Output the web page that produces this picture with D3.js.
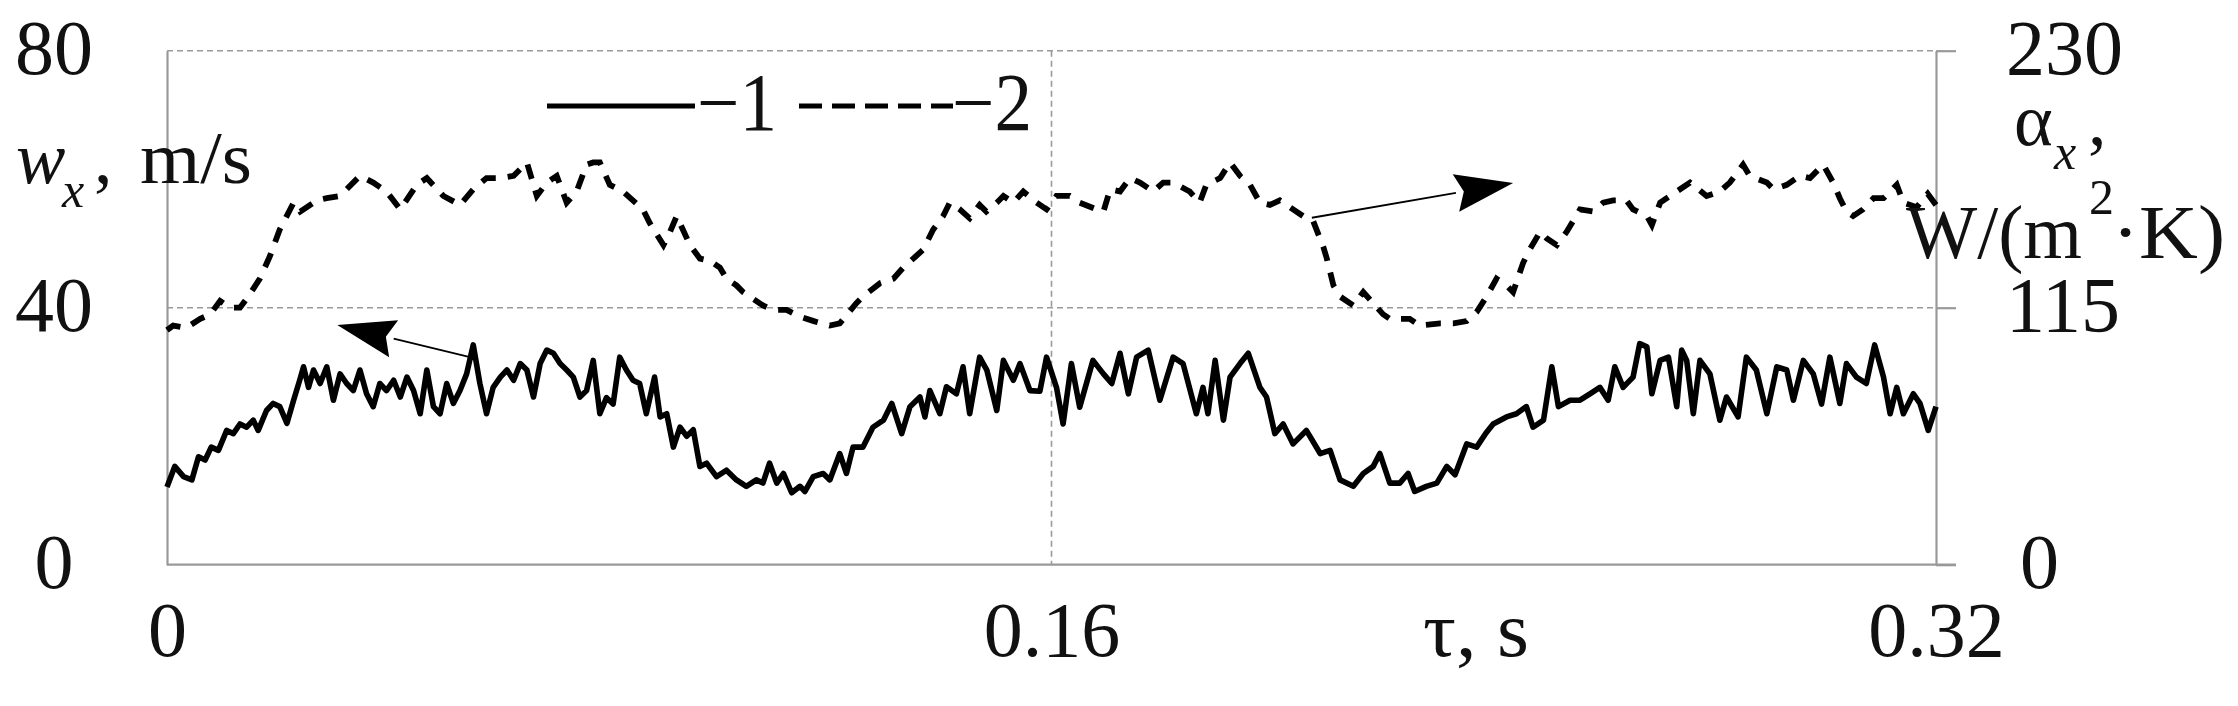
<!DOCTYPE html>
<html>
<head>
<meta charset="utf-8">
<script src="https://cdn.jsdelivr.net/npm/d3@7/dist/d3.min.js"></script>
<style>
html, body { margin: 0; padding: 0; background: #fff; }
svg text { font-family: "Liberation Serif", "Times New Roman", serif; fill: #111; }
</style>
</head>
<body>
<svg id="chart" width="2238" height="706"></svg>
<script>
// curve 1 - w_x, m/s (left axis), time in ms
var tau1 = [0, 1.4, 3, 4.5, 5.7, 6.9, 8, 9.3, 10.8, 12, 13.2, 14.4, 15.6, 16.5, 18, 19.2, 20.4, 21.7, 22.9, 24,
  24.7, 25.6, 26.5, 27.7, 28.9, 30.1, 31.3, 32.5, 33.7, 34.9, 36.1, 37.3, 38.5, 39.7, 41, 42.2, 43.4, 44.6, 45.8, 47,
  48.2, 49.4, 50.6, 51.8, 53, 54.2, 55.4, 56.6, 57.8, 59, 60.3, 61.5, 62.7, 63.9, 65.1, 66.3, 67.5, 68.7, 69.9, 71.1,
  72.3, 73.5, 74.7, 75.9, 77.1, 78.3, 79.5, 80.7, 81.9, 83.1, 84.3, 85.5, 86.7, 88.2, 89.2, 90.4, 91.6, 92.8, 94, 95.2,
  96.4, 97.6, 99.4, 101.2, 103, 104.8, 106.6, 107.8, 109, 110.3, 111.5, 113, 114.5, 115.4, 116.9, 118.7, 119.9, 121.7, 122.9, 124.1,
  125.9, 127.7, 129.6, 131.1, 132.9, 134.4, 136.2, 137.1, 138, 139.8, 141, 142.8, 144, 145.2, 147, 148.3, 150.1, 151.3, 153.1, 154.3,
  156.1, 157.9, 159.1, 160.9, 162.1, 163.6, 165.1, 167.5, 169.4, 170.9, 172.4, 173.9, 175.4, 177.5, 179.6, 182, 183.8, 186.2, 187.4, 188.3,
  189.6, 191.1, 192.3, 194.1, 195.6, 197.7, 198.9, 200.4, 201.9, 203.7, 206.1, 208.6, 210.4, 212.2, 214.6, 216.4, 218.2, 219.4, 221.2, 223,
  224.5, 225.7, 227.8, 229.7, 231.5, 233, 235.1, 236.9, 238.6, 239.9, 242.3, 244.1, 245.9, 247.1, 249, 250.5, 251.7, 253.8, 255.6, 257.4,
  259.2, 260.7, 261.9, 263.4, 265.2, 266.4, 267.7, 268.6, 270.1, 271.6, 273.1, 274, 274.9, 276.1, 277.3, 279.1, 280.9, 282.1, 284.2, 285.7,
  287.5, 289.4, 291.2, 293, 294.2, 296, 297.8, 299.3, 300.8, 302.6, 303.8, 305.6, 307.4, 308.9, 310.5, 311.7, 312.9, 314.1, 315.9, 317.1,
  318.6, 320];
var w1 = [12.1, 15.3, 13.7, 13.2, 16.8, 16.3, 18.3, 17.8, 20.9, 20.4, 21.9, 21.4, 22.5, 20.9, 24, 25.1, 24.6, 22, 25.6, 28.7,
  30.8, 27.6, 30.3, 28.2, 30.8, 25.6, 29.7, 28.2, 27.1, 30.3, 26.6, 24.6, 28.2, 27.1, 28.7, 26.1, 29.2, 27.1, 23.5, 30.3,
  24.6, 23.5, 28.2, 25.1, 27.1, 29.7, 34.2, 28.2, 23.5, 27.6, 29.2, 30.3, 28.7, 31.3, 30.3, 26.1, 31.3, 33.4, 32.9, 31.3,
  30.3, 29.2, 26.1, 27.1, 31.8, 23.5, 26, 25, 32.3, 30.3, 28.7, 28.2, 23.5, 29.2, 23, 23.5, 18.3, 21.4, 20, 21,
  15.3, 15.8, 13.7, 14.7, 13.2, 12.2, 13.2, 12.7, 15.8, 12.7, 14.2, 11.2, 12.2, 11.4, 13.7, 14.2, 13.2, 17.3, 14.2, 18.3,
  18.3, 21.4, 22.5, 25.1, 20.4, 24.6, 26.1, 23, 27.1, 23.5, 27.7, 26.6, 30.8, 23.5, 32.3, 30.3, 24, 31.8, 28.7, 31.3,
  27.1, 27, 32.3, 27.6, 21.9, 31.3, 24.5, 31.8, 29.7, 28.2, 32.9, 26.6, 32.3, 33.4, 25.6, 32.3, 31.3, 23.5, 27.6, 23.5,
  31.8, 22.5, 29.2, 31.3, 32.9, 27.6, 26.1, 20.4, 21.9, 18.8, 20.9, 17.3, 17.8, 13.2, 12.2, 14.2, 15.3, 17.3, 12.7, 12.7,
  14.2, 11.4, 12.2, 12.7, 15.3, 14, 18.8, 18.3, 20.5, 21.9, 23, 23.5, 24.6, 21.4, 22.5, 30.8, 24.6, 25.6, 25.6, 26.6,
  27.6, 25.6, 30.8, 27.6, 29.2, 34.4, 33.9, 26.6, 31.8, 32.3, 24.6, 33.4, 31.8, 23.5, 31.8, 29.7, 22.5, 26.1, 23, 32.3,
  30.3, 23.5, 30.8, 30.3, 25.6, 31.8, 29.7, 25, 32.3, 25.1, 31.3, 29.2, 28.2, 34.2, 29.2, 23.5, 27.6, 23.5, 26.6, 25.1,
  20.9, 24.6];

// curve 2 - alpha_x, W/(m2 K) (right axis), time in ms
var tau2 = [0, 1.1, 3.5, 6, 7.8, 9.6, 11.4, 13.2, 14.7, 16.8, 18.6, 20.4, 22.9, 24.1, 27.1, 28.9, 31.3, 34.9, 37.3, 39.7,
  42.2, 45.2, 47, 50, 53, 55.4, 57.8, 60.3, 62.7, 65.1, 66.9, 68.7, 70.5, 72.3, 74.1, 75.9, 77.1, 78.3, 80.1, 82.5,
  86.1, 87.3, 89.8, 91, 92.2, 94.6, 96.4, 98.2, 100, 101.2, 103, 104.2, 107.8, 109.7, 112.1, 114.5, 117, 119.9, 121.7, 124.7,
  125.9, 129, 131.4, 133.2, 135, 136.8, 138.6, 140.4, 141.6, 143.4, 145.2, 147, 148.2, 150.1, 151.3, 153.1, 154.9, 157.3, 159.1, 160.9,
  163.3, 165.1, 168.2, 169.4, 170.6, 172.4, 174.2, 176, 178.4, 180.2, 182, 185, 186.8, 188, 190.5, 192.3, 194.1, 195.9, 197.7, 199.5,
  201.3, 203.7, 206.1, 207.3, 209.2, 209.8, 211, 212.2, 214.6, 216.4, 220, 221.2, 224.8, 226.6, 230.3, 232.7, 235.1, 236.9, 238.7, 240.5,
  242.3, 243.5, 245.3, 246.5, 248.4, 249.6, 251.4, 253.2, 255.6, 258, 259.8, 261.6, 264, 265.2, 267.7, 268.6, 270.1, 271.9, 273.7, 275.5,
  278.5, 280.9, 282.7, 285.1, 286.3, 289.4, 290.6, 293, 295.4, 297.2, 299.6, 301.4, 302.6, 303.8, 305, 306.8, 308.7, 310.5, 312.9, 314.1,
  316.5, 318.5, 320];
var alpha2 = [105, 107, 106, 110, 112, 118, 115, 115, 120, 128, 138, 150, 162, 158, 163, 164, 165, 174, 171, 167,
  159, 170, 173, 165, 161, 168, 173, 173, 174, 180, 165, 171, 174, 162, 167, 179, 180, 180, 170, 167,
  159, 153, 143, 149, 156, 143, 137, 136, 133, 128, 125, 122, 116, 114, 114, 111, 109, 107, 108, 117,
  120, 126, 128, 133, 137, 141, 150, 156, 162, 159, 155, 161, 158, 162, 165, 162, 167, 162, 159, 165,
  165, 162, 159, 158, 168, 167, 173, 171, 167, 171, 171, 167, 162, 170, 173, 180, 174, 170, 162, 161,
  163, 159, 155, 154, 142, 137, 125, 120, 116, 122, 112, 110, 110, 107, 108, 108, 109, 113, 120, 128,
  125, 122, 135, 141, 149, 146, 143, 149, 159, 158, 162, 163, 163, 159, 156, 152, 162, 165, 168, 171,
  165, 167, 171, 179, 174, 171, 168, 170, 174, 173, 179, 171, 164, 158, 156, 159, 164, 164, 170, 162,
  160, 166, 161];

var xTicks = [0, 0.16, 0.32],
    xTickLabels = ['0', '0.16', '0.32'],
    wTicks = [0, 40, 80],
    alphaTicks = [0, 115, 230];

// annotation arrows, [tau ms, w] from -> to
var arrowLeft = [[54.8, 32.3], [30.8, 37.3]],
    arrowRight = [[207.1, 54.0], [243.5, 59.4]];

(function() {
var svg = d3.select('#chart'),
    plotL = 167, plotR = 1936, plotT = 50.7, plotB = 564.7;

var x = d3.scaleLinear().domain([0, 0.32]).range([plotL, plotR]),
    yW = d3.scaleLinear().domain([0, 80]).range([plotB, plotT]),
    yA = d3.scaleLinear().domain([0, 230]).range([plotB, plotT]);

// grid
var grid = svg.append('g')
  .attr('stroke', '#9a9a9a')
  .attr('stroke-width', 1.6)
  .attr('stroke-dasharray', '6,4');
grid.selectAll('line.h')
  .data(wTicks.slice(1))
  .enter().append('line')
  .attr('class', 'h')
  .attr('x1', plotL).attr('x2', plotR)
  .attr('y1', function(d) { return yW(d); })
  .attr('y2', function(d) { return yW(d); });
grid.append('line')
  .attr('x1', x(xTicks[1])).attr('x2', x(xTicks[1]))
  .attr('y1', plotT).attr('y2', plotB);

// axes
var gLeft = svg.append('g')
  .attr('transform', 'translate(' + plotL + ',0)')
  .call(d3.axisLeft(yW).tickValues(wTicks).tickSize(0).tickPadding(70));
var gRight = svg.append('g')
  .attr('transform', 'translate(' + plotR + ',0)')
  .call(d3.axisRight(yA).tickValues(alphaTicks).tickSize(20).tickPadding(50).tickSizeOuter(0));
var gBottom = svg.append('g')
  .attr('transform', 'translate(0,' + plotB + ')')
  .call(d3.axisBottom(x).tickValues(xTicks).tickSize(0).tickPadding(36)
    .tickFormat(function(d, i) { return xTickLabels[i]; }));

[gLeft, gRight, gBottom].forEach(function(g) {
  g.select('.domain').attr('stroke', '#999').attr('stroke-width', 2.2);
  g.selectAll('.tick line').attr('stroke', '#999').attr('stroke-width', 2.2);
  g.selectAll('.tick text')
    .attr('font-family', '"Liberation Serif", serif')
    .attr('font-size', 78)
    .attr('fill', '#111');
});
// left labels sit centred in the margin
gLeft.selectAll('.tick text')
  .attr('dy', '0.29em')
  .attr('text-anchor', 'middle')
  .attr('x', 54 - plotL);
gRight.selectAll('.tick text')
  .attr('dy', '0.29em')
  .attr('x', function(d) { return d === 0 ? 84 : 70; });
gBottom.select('.domain').attr('d', 'M' + plotL + ',0H' + (plotR + 20));

// curves
var line1 = d3.line()
  .x(function(d, i) { return x(tau1[i] / 1000); })
  .y(function(d) { return yW(d); });
var line2 = d3.line()
  .x(function(d, i) { return x(tau2[i] / 1000); })
  .y(function(d) { return yA(d); });

svg.append('path')
  .attr('d', line1(w1))
  .attr('fill', 'none')
  .attr('stroke', '#000')
  .attr('stroke-width', 5.6)
  .attr('stroke-linejoin', 'round');
svg.append('path')
  .attr('d', line2(alpha2))
  .attr('fill', 'none')
  .attr('stroke', '#000')
  .attr('stroke-width', 5.8)
  .attr('stroke-dasharray', '15,12');

// arrows
function arrow(a) {
  var x0 = x(a[0][0] / 1000), y0 = yW(a[0][1]),
      x1 = x(a[1][0] / 1000), y1 = yW(a[1][1]),
      dx = x1 - x0, dy = y1 - y0, len = Math.sqrt(dx * dx + dy * dy),
      ux = dx / len, uy = dy / len, hl = 58, hw = 19,
      bx = x1 - ux * hl, by = y1 - uy * hl;
  svg.append('line')
    .attr('x1', x0).attr('y1', y0).attr('x2', bx).attr('y2', by)
    .attr('stroke', '#000').attr('stroke-width', 1.8);
  svg.append('path')
    .attr('d', 'M' + x1 + ',' + y1
      + 'L' + (bx - uy * hw) + ',' + (by + ux * hw)
      + 'L' + (bx + ux * 8) + ',' + (by + uy * 8)
      + 'L' + (bx + uy * hw) + ',' + (by - ux * hw) + 'Z')
    .attr('fill', '#000');
}
arrow(arrowLeft);
arrow(arrowRight);

// legend
svg.append('line')
  .attr('x1', 547).attr('x2', 695).attr('y1', 106).attr('y2', 106)
  .attr('stroke', '#000').attr('stroke-width', 5);
svg.append('line')
  .attr('x1', 799).attr('x2', 953).attr('y1', 106).attr('y2', 106)
  .attr('stroke', '#000').attr('stroke-width', 5)
  .attr('stroke-dasharray', '23,10');

function label(txt, px, py, size, opts) {
  opts = opts || {};
  var t = svg.append('text')
    .attr('x', px).attr('y', py)
    .attr('font-size', size)
    .text(txt);
  if (opts.italic) t.attr('font-style', 'italic');
  if (opts.len) t.attr('textLength', opts.len).attr('lengthAdjust', 'spacingAndGlyphs');
  return t;
}
label('\u22121', 697, 130, 82, {len: 80});
label('\u22122', 952, 130, 82, {len: 80});

// axis titles
label('w', 16, 183, 74, {italic: true});
label('x', 62, 207, 50, {italic: true});
label(',', 94, 183, 74);
label('m/s', 140, 183, 74, {len: 112});

label('\u03b1', 2014, 145, 74);
label('x', 2054, 169, 50, {italic: true});
label(',', 2088, 145, 74);
label('W/(m', 1906, 258, 76, {len: 176});
label('2', 2089, 214, 50);
label('\u00b7K)', 2112, 258, 76, {len: 113});

label('\u03c4, s', 1423, 656, 78, {len: 106});
})();
</script>
</body>
</html>
